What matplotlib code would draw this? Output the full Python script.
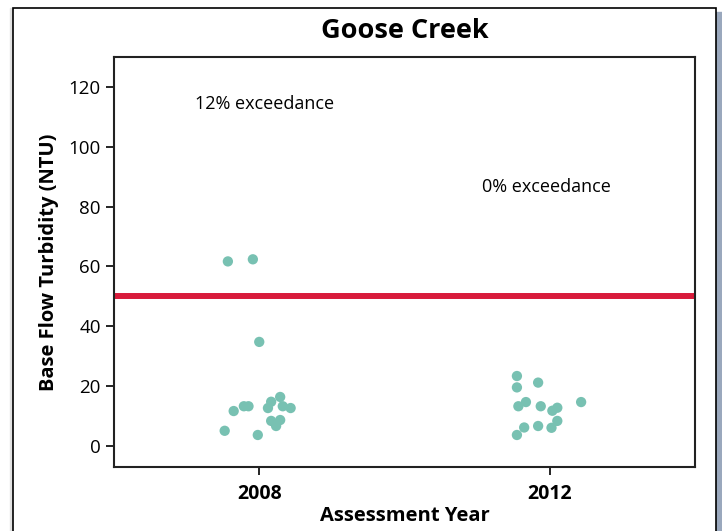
import matplotlib
matplotlib.use("Agg")
import matplotlib.pyplot as plt
from matplotlib.patches import Rectangle

# ── Data ───────────────────────────────────────────────────────────────────────
years = ["2008", "2012"]

# jitter offsets (category units) and turbidity values (NTU)
x_2008 = [-0.108, -0.022, 0.000, -0.088, -0.053, -0.037, -0.119, -0.005,
          0.030, 0.041, 0.072, 0.081, 0.108, 0.041, 0.072, 0.058]
y_2008 = [61.7, 62.4, 34.8, 11.7, 13.3, 13.3, 5.1, 3.7,
          12.7, 14.8, 16.4, 13.3, 12.7, 8.4, 8.7, 6.7]

x_2012 = [-0.113, -0.113, -0.040, -0.108, -0.082, -0.031, 0.009,
          0.026, 0.108, -0.088, -0.040, -0.113, 0.006, 0.026]
y_2012 = [23.4, 19.6, 21.2, 13.3, 14.7, 13.3, 11.8,
          12.8, 14.7, 6.2, 6.7, 3.7, 6.1, 8.4]

standard = 50
exceed_labels = ["12% exceedance", "0% exceedance"]
exceed_y = [114.3, 86.6]

PT_COLOR  = "#78c1b2"
STD_COLOR = "#d81b3b"

plt.rcParams["font.family"] = ["Open Sans", "DejaVu Sans"]

fig = plt.figure(figsize=(7.22, 5.31), dpi=100)

# page frame + drop shadow
W, H = 722, 531
fig.patches.append(Rectangle((716 / W, 0), 6 / W, 1 - 12 / H,
                             transform=fig.transFigure, color="#9aa8bd", zorder=0))
fig.patches.append(Rectangle((10 / W, 0), 3 / W, 1 - 8 / H,
                             transform=fig.transFigure, color="#e2e2e2", zorder=0))
fig.patches.append(Rectangle((13 / W, -0.05), 703 / W, 1.05 - 8 / H,
                             transform=fig.transFigure, facecolor="white",
                             edgecolor="black", linewidth=1.2, zorder=1))

ax = fig.add_axes([114 / W, 64 / H, 581 / W, 410 / H])
ax.set_zorder(2)

ax.scatter([0 + dx for dx in x_2008], y_2008, s=55, color=PT_COLOR,
           edgecolors="none", zorder=3)
ax.scatter([1 + dx for dx in x_2012], y_2012, s=55, color=PT_COLOR,
           edgecolors="none", zorder=3)
ax.axhline(standard, color=STD_COLOR, linewidth=4.3, zorder=2)

ax.text(0.02, exceed_y[0], exceed_labels[0], ha="center", va="center", fontsize=13)
ax.text(0.99, exceed_y[1], exceed_labels[1], ha="center", va="center", fontsize=13)

ax.set_xlim(-0.5, 1.5)
ax.set_ylim(-7, 130)
ax.set_xticks([0, 1])
ax.set_xticklabels(years, fontweight="bold", fontsize=14)
ax.set_yticks(range(0, 121, 20))
ax.tick_params(axis="y", labelsize=13.5)
ax.tick_params(axis="x", pad=6)
ax.tick_params(axis="both", length=6, width=1.2, direction="out")
for s in ax.spines.values():
    s.set_linewidth(1.5)
    s.set_color("#222222")

ax.set_xlabel("Assessment Year", fontsize=14.5, fontweight="bold", labelpad=2)
ax.set_ylabel("Base Flow Turbidity (NTU)", fontsize=14.5, fontweight="bold", labelpad=7)
ax.set_title("Goose Creek", fontsize=19.5, fontweight="bold", pad=14)

fig.savefig("out.png", dpi=100)
